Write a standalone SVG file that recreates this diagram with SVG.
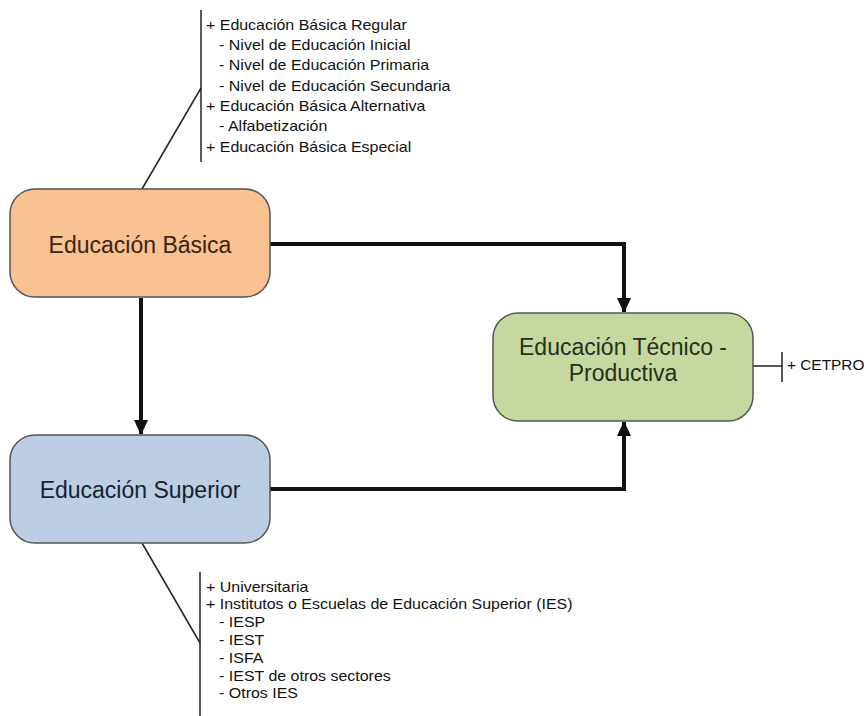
<svg xmlns="http://www.w3.org/2000/svg" width="864" height="716" viewBox="0 0 864 716">
<style>
.box{stroke:#555;stroke-width:1.5}
.big{font-family:"Liberation Sans",Arial,sans-serif;font-size:23px;text-anchor:middle}
.lst{font-family:"Liberation Sans",Arial,sans-serif;font-size:14px;fill:#111}
.thin{stroke:#222;stroke-width:1.5;fill:none}
.arr{stroke:#111;stroke-width:4;fill:none;marker-end:url(#ah)}
</style>
<defs>
<marker id="ah" markerUnits="userSpaceOnUse" markerWidth="16" markerHeight="16" viewBox="0 0 16 16" refX="14" refY="8" orient="auto">
<path d="M0,1 L15,8 L0,15 Z" fill="#111"/>
</marker>
</defs>
<rect width="864" height="716" fill="#fff"/>
<g id="connectors">
<path class="arr" d="M270,244 H624 V312"/>
<path class="arr" d="M141,298 V434"/>
<path class="arr" d="M270,489 H624 V422"/>
<line class="thin" x1="142" y1="189" x2="201" y2="88"/>
<line class="thin" x1="201" y1="10" x2="201" y2="162"/>
<line class="thin" x1="142" y1="543" x2="200" y2="643"/>
<line class="thin" x1="200" y1="572" x2="200" y2="716"/>
<line class="thin" x1="753" y1="366" x2="782" y2="366"/>
<line class="thin" x1="782" y1="352" x2="782" y2="382"/>
</g>
<g id="basica">
<rect class="box" x="10" y="189" width="260" height="108" rx="25" fill="#fac192"/>
<text class="big" x="140" y="253" fill="#3a2414">Educación Básica</text>
</g>
<g id="superior">
<rect class="box" x="10" y="435" width="260" height="108" rx="25" fill="#bccde4"/>
<text class="big" x="140" y="498" fill="#17222f">Educación Superior</text>
</g>
<g id="tecnico">
<rect class="box" x="493" y="313" width="260" height="108" rx="25" fill="#c5d8a0"/>
<text class="big" x="623" y="355" fill="#26301a">Educación Técnico -</text>
<text class="big" x="623" y="381" fill="#26301a">Productiva</text>
</g>
<g id="lista-basica" transform="translate(206,0) scale(1.14,1)">
<text class="lst" x="0" y="30">+ Educación Básica Regular</text>
<text class="lst" x="11.5" y="50">- Nivel de Educación Inicial</text>
<text class="lst" x="11.5" y="70.5">- Nivel de Educación Primaria</text>
<text class="lst" x="11.5" y="91">- Nivel de Educación Secundaria</text>
<text class="lst" x="0" y="111">+ Educación Básica Alternativa</text>
<text class="lst" x="11.5" y="131.5">- Alfabetización</text>
<text class="lst" x="0" y="152">+ Educación Básica Especial</text>
</g>
<g id="lista-superior" transform="translate(206,0) scale(1.14,1)">
<text class="lst" x="0" y="592">+ Universitaria</text>
<text class="lst" x="0" y="609">+ Institutos o Escuelas de Educación Superior (IES)</text>
<text class="lst" x="11.5" y="627">- IESP</text>
<text class="lst" x="11.5" y="645">- IEST</text>
<text class="lst" x="11.5" y="663">- ISFA</text>
<text class="lst" x="11.5" y="681">- IEST de otros sectores</text>
<text class="lst" x="11.5" y="698">- Otros IES</text>
</g>
<g id="lista-tecnico" transform="translate(787,0) scale(1.1,1)">
<text class="lst" x="0" y="370">+ CETPRO</text>
</g>
</svg>
